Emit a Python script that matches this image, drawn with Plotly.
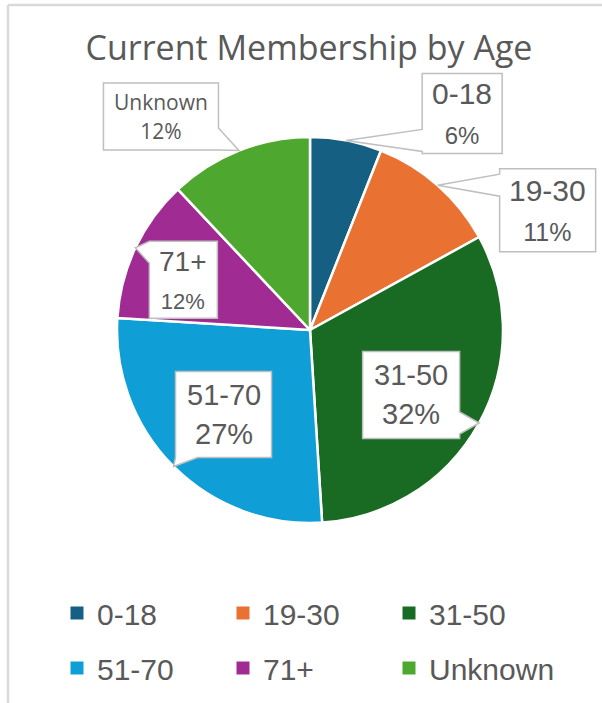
import math
import plotly.graph_objects as go

# ---- data ----
categories = ["0-18", "19-30", "31-50", "51-70", "71+", "Unknown"]
values = [6, 11, 32, 27, 12, 12]
colors = ["#156082", "#E97132", "#196B24", "#0F9ED5", "#A02B93", "#4EA72E"]
title_text = "Current Membership by Age"

# ---- layout / style (pixels) ----
W, H = 602, 703
CX, CY, R = 310, 330, 193
TXT = "#595959"
EDGE = "#BFBFBF"
TITLE_FONT = "Open Sans, Noto Sans, sans-serif"
BODY_FONT = "Liberation Sans, Arial, sans-serif"

# callout box placement relative to the slice tip: dx, dy, w, h, size1, size2, font
label_style = {
    "0-18":    (116, -27, 80, 80, 30, 24, BODY_FONT),
    "19-30":   (110, 25, 96, 83, 30, 25, BODY_FONT),
    "31-50":   (-68, -28, 97, 87, 29, 29, BODY_FONT),
    "51-70":   (50, -52, 96, 86, 29, 29, BODY_FONT),
    "71+":     (48, 32, 68, 77, 28, 22, BODY_FONT),
    "Unknown": (-78, -34, 115, 67, 21, 21, TITLE_FONT),
}
legend_rows_y = [613, 668]   # pixel centres of the two legend rows
legend_x = 57
legend_cols = 3


def px(x, y):
    return x / W, 1 - y / H


fig = go.Figure()
fig.add_trace(go.Pie(
    labels=categories, values=values, sort=False, direction="clockwise", rotation=0,
    marker=dict(colors=colors, line=dict(color="white", width=2.5)),
    textinfo="none", hoverinfo="label+percent", showlegend=False,
    domain=dict(x=[(CX - R) / W, (CX + R) / W], y=[1 - (CY + R) / H, 1 - (CY - R) / H]),
))

# legend entries (one per category), laid out in two rows of three
for i, (cat, col) in enumerate(zip(categories, colors)):
    fig.add_trace(go.Scatter(
        x=[None], y=[None], mode="markers", name=cat,
        marker=dict(symbol="square", size=13, color=col),
        legend="legend" if i < legend_cols else "legend2", hoverinfo="skip",
    ))

shapes = []
annotations = []
total = sum(values)
cum = 0
for cat, v in zip(categories, values):
    ang = 2 * math.pi * (cum + v / 2) / total
    cum += v
    tx, ty = CX + R * math.sin(ang), CY - R * math.cos(ang)
    dx, dy, bw, bh, s1, s2, fnt = label_style[cat]
    bx, by = tx + dx, ty + dy
    x0, x1, y0, y1 = bx - bw / 2, bx + bw / 2, by - bh / 2, by + bh / 2
    half = 11
    if abs(dx) / bw > abs(dy) / bh:
        side = "left" if dx > 0 else "right"
        c = min(max(ty, y0 + half), y1 - half)
    else:
        side = "top" if dy > 0 else "bottom"
        c = min(max(tx, x0 + half), x1 - half)
    pts = [(x0, y0)]
    if side == "top":
        pts += [(c - half, y0), (tx, ty), (c + half, y0)]
    pts.append((x1, y0))
    if side == "right":
        pts += [(x1, c - half), (tx, ty), (x1, c + half)]
    pts.append((x1, y1))
    if side == "bottom":
        pts += [(c + half, y1), (tx, ty), (c - half, y1)]
    pts.append((x0, y1))
    if side == "left":
        pts += [(x0, c + half), (tx, ty), (x0, c - half)]
    path = "M " + " L ".join("%.5f,%.5f" % px(*p) for p in pts) + " Z"
    shapes.append(dict(type="path", path=path, xref="paper", yref="paper",
                       fillcolor="white", line=dict(color=EDGE, width=1.5), layer="above"))
    pct = "%d%%" % round(100 * v / total)
    ax_, ay_ = px(bx, by)
    annotations.append(dict(
        x=ax_, y=ay_, xref="paper", yref="paper", showarrow=False,
        xanchor="center", yanchor="middle",
        text="<span style='font-size:%dpx'>%s</span><br><span style='font-size:%dpx'>%s</span>" % (s1, cat, s2, pct),
        font=dict(family=fnt, size=max(s1, s2) + 1, color=TXT),
    ))

# chart frame (top and left edges visible)
shapes.append(dict(type="line", xref="paper", yref="paper", x0=px(8, 0)[0], x1=1.0,
                   y0=px(0, 5)[1], y1=px(0, 5)[1], line=dict(color="#D9D9D9", width=2.5)))
shapes.append(dict(type="line", xref="paper", yref="paper", x0=px(8, 0)[0], x1=px(8, 0)[0],
                   y0=0, y1=px(0, 5)[1], line=dict(color="#D9D9D9", width=2.5)))

legend_common = dict(orientation="h", xanchor="left", yanchor="middle",
                     entrywidth=121, entrywidthmode="pixels", traceorder="normal",
                     bgcolor="rgba(0,0,0,0)",
                     font=dict(family=BODY_FONT, size=30, color=TXT))

fig.update_layout(
    width=W, height=H, margin=dict(l=0, r=0, t=0, b=0),
    paper_bgcolor="white", plot_bgcolor="white",
    xaxis=dict(visible=False), yaxis=dict(visible=False),
    title=dict(text=title_text, x=309 / W, xanchor="center", y=1 - 48 / H, yanchor="middle",
               yref="container", font=dict(family=TITLE_FONT, size=34, color=TXT)),
    showlegend=True,
    legend=dict(x=legend_x / W, y=px(0, legend_rows_y[0])[1], **legend_common),
    legend2=dict(x=legend_x / W, y=px(0, legend_rows_y[1])[1], **legend_common),
    shapes=shapes, annotations=annotations,
)

fig.write_html("out.html", config={"displayModeBar": False},
               post_script="document.body.style.margin='0px';document.body.style.overflow='hidden';")
